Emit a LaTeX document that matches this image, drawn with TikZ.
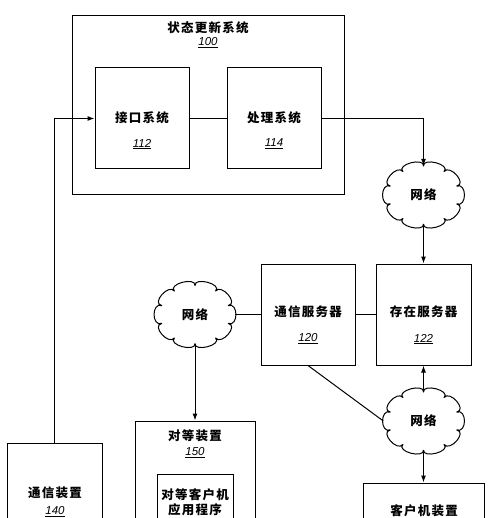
\documentclass[tikz,border=0pt]{standalone}
\usepackage{fontspec}
\newfontfamily\cjk[LetterSpace=10]{Noto Sans CJK SC}
\newfontfamily\numf{Liberation Sans}
\usetikzlibrary{shapes.geometric,arrows.meta,calc,fit}
\tikzset{
  conn/.style={line width=1pt},
  arr/.style={conn,-{Latex[length=7pt,width=5pt]}},
  box/.style={draw,line width=1pt,inner sep=0pt},
  cn/.style={font=\cjk\bfseries\fontsize{12.5}{15}\selectfont,inner sep=0pt},
  num/.style={font=\numf\itshape\fontsize{11.5}{13}\selectfont,inner sep=0pt},
  cloudnode/.style={ellipse,minimum width=70pt,minimum height=58pt,inner sep=0pt,font=\cjk\bfseries\fontsize{12.5}{15}\selectfont}
}
\newcommand\cloudoutline[1]{%
  \draw[conn,line join=round] ($(#1)+(90:35 and 29)$)
    \foreach \a in {90,126,...,414} {
      .. controls ($(#1)+({\a-1}:46 and 38)$) and ($(#1)+({\a+37}:46 and 38)$) .. ($(#1)+({\a+36}:35 and 29)$)
    };}
\begin{document}
\begin{tikzpicture}[x=1pt,y=-1pt]
\path[use as bounding box] (0,0) rectangle (500,518);
\clip (0,0) rectangle (500,518);
% boxes
\node[box,fit={(72,16) (344,195)}] (b100) {};
\node[box,fit={(95,68) (189,169)}] (b112) {};
\node[box,fit={(227,68) (321,169)}] (b114) {};
\node[box,fit={(261,264) (355,365)}] (b120) {};
\node[box,fit={(376,264) (471,365)}] (b122) {};
\node[box,fit={(135,421) (255,540)}] (b150) {};
\node[box,fit={(157,474) (233,540)}] (b150a) {};
\node[box,fit={(363,483) (484,540)}] (bcl) {};
\node[box,fit={(7,443) (102,540)}] (b140) {};
% clouds
\node[cloudnode] (c1) at (423.5,195) {网络};
\node[cloudnode] (c2) at (195,314.5) {网络};
\node[cloudnode] (c3) at (423.5,421) {网络};
\cloudoutline{c1}
\cloudoutline{c2}
\cloudoutline{c3}
% texts
\node[cn] (t100) at (208,28) {状态更新系统};
\node[num] (n100) at (208,43) {\underline{100}};
\node[cn] (t112) at (142,118) {接口系统};
\node[num] (n112) at (142,144) {\underline{112}};
\node[cn] (t114) at (274,118) {处理系统};
\node[num] (n114) at (274,144) {\underline{114}};
\node[cn] (t120) at (308,312) {通信服务器};
\node[num] (n120) at (308,339) {\underline{120}};
\node[cn] (t122) at (423.5,312) {存在服务器};
\node[num] (n122) at (423.5,339) {\underline{122}};
\node[cn] (t150) at (195,436) {对等装置};
\node[num] (n150) at (195,453) {\underline{150}};
\node[cn] (t150a) at (195,495) {对等客户机};
\node[cn] (t150b) at (195,510) {应用程序};
\node[cn] (tcl) at (424,511) {客户机装置};
\node[cn] (t140) at (55,493) {通信装置};
\node[num] (n140) at (55,511.5) {\underline{140}};
% connectors
\draw[conn] (b112.east) -- (b114.west);
\draw[arr] (b114.east) -| (c1.north);
\draw[arr] (c1.south) -- (b122.north);
\draw[conn] (b120.east) -- (b122.west);
\draw[conn] ([xshift=5pt]c2.east) -- (b120.west);
\draw[arr] (c2.south) -- (b150.north);
\draw[arr] (c3.north) -- (b122.south);
\draw[arr] (c3.south) -- (bcl.north);
\draw[conn] (b120.south) -- ([xshift=-5pt]c3.west);
\draw[arr] (b140.north) |- (b112.west);
\end{tikzpicture}
\end{document}
